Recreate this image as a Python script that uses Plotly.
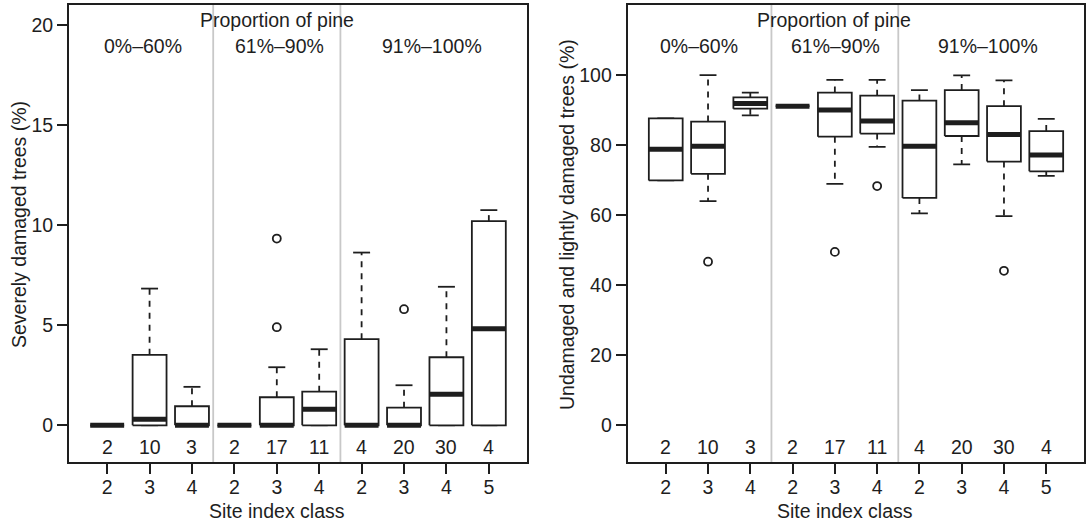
import plotly.graph_objects as go

# ---------------- data ----------------
site_labels = ["2", "3", "4", "2", "3", "4", "2", "3", "4", "5"]
group_labels = ["0%–60%", "61%–90%", "91%–100%"]
group_sizes = [3, 3, 4]
n_counts = ["2", "10", "3", "2", "17", "11", "4", "20", "30", "4"]

# Left panel: severely damaged trees (%)
sev_lower = [0, 0, 0, 0, 0, 0, 0, 0, 0, 0]
sev_q1 = [0, 0, 0, 0, 0, 0, 0, 0, 0, 0]
sev_median = [0, 0.3, 0, 0, 0, 0.8, 0, 0, 1.55, 4.82]
sev_q3 = [0, 3.52, 0.95, 0, 1.4, 1.68, 4.3, 0.88, 3.4, 10.2]
sev_upper = [0, 6.83, 1.92, 0, 2.9, 3.8, 8.63, 2.0, 6.92, 10.75]
sev_outliers = [[], [], [], [], [4.9, 9.33], [], [], [5.8], [], []]

# Right panel: undamaged and lightly damaged trees (%)
und_lower = [69.9, 64.0, 88.5, 91.1, 68.9, 79.5, 60.5, 74.5, 59.7, 71.2]
und_q1 = [69.9, 71.8, 90.4, 91.1, 82.4, 83.3, 64.9, 82.6, 75.3, 72.5]
und_median = [78.8, 79.7, 91.9, 91.1, 90.0, 86.9, 79.7, 86.4, 83.0, 77.2]
und_q3 = [87.6, 86.7, 93.6, 91.1, 95.0, 94.1, 92.7, 95.7, 91.1, 84.0]
und_upper = [87.6, 100.0, 95.0, 91.1, 98.6, 98.6, 95.7, 99.9, 98.5, 87.5]
und_outliers = [[], [46.7], [], [], [49.5], [68.3], [], [], [44.1], []]

# ---------------- style ----------------
INK = "#1e1e1e"
GREY = "#c8c8c8"
FONT = "Liberation Sans, Arial, Helvetica, sans-serif"
FS = 19.5
W, H = 1086, 524
MT, MB = 5, 62
BOXW = 0.4   # half width of box
CAPW = 0.2   # half width of staple

fig = go.Figure()


def add_panel(xa, ya, lower, q1, med, q3, upper, outl):
    pos = list(range(1, len(q1) + 1))
    bx, by, wx, wy, cx, cy, mx, my, ox, oy = [], [], [], [], [], [], [], [], [], []
    for p, lo, a, m, b, up, out in zip(pos, lower, q1, med, q3, upper, outl):
        bx += [p - BOXW, p + BOXW, p + BOXW, p - BOXW, p - BOXW, None]
        by += [a, a, b, b, a, None]
        wx += [p, p, None, p, p, None]
        wy += [b, up, None, a, lo, None]
        cx += [p - CAPW, p + CAPW, None, p - CAPW, p + CAPW, None]
        cy += [up, up, None, lo, lo, None]
        mx += [p - BOXW, p + BOXW, None]
        my += [m, m, None]
        for o in out:
            ox.append(p)
            oy.append(o)
    common = dict(xaxis=xa, yaxis=ya, mode="lines", hoverinfo="skip", showlegend=False)
    fig.add_trace(go.Scatter(x=wx, y=wy, line=dict(color=INK, width=1.8, dash="6px,6px"), **common))
    fig.add_trace(go.Scatter(x=cx, y=cy, line=dict(color=INK, width=1.8), **common))
    fig.add_trace(go.Scatter(x=bx, y=by, line=dict(color=INK, width=1.8), fill="toself",
                             fillcolor="white", **common))
    fig.add_trace(go.Scatter(x=mx, y=my, line=dict(color=INK, width=5), **common))
    fig.add_trace(go.Scatter(x=ox, y=oy, xaxis=xa, yaxis=ya, mode="markers", hoverinfo="skip",
                             showlegend=False,
                             marker=dict(symbol="circle-open", size=8, color=INK,
                                         line=dict(width=1.8, color=INK))))


add_panel("x", "y", sev_lower, sev_q1, sev_median, sev_q3, sev_upper, sev_outliers)
add_panel("x2", "y2", und_lower, und_q1, und_median, und_q3, und_upper, und_outliers)

# group separators
bounds = []
acc = 0
for g in group_sizes[:-1]:
    acc += g
    bounds.append(acc + 0.5)
for xr, yr in [("x", "y domain"), ("x2", "y2 domain")]:
    for b in bounds:
        fig.add_shape(type="line", xref=xr, yref=yr, x0=b, x1=b, y0=0, y1=1,
                      line=dict(color=GREY, width=1.8), layer="below")

# group label centers (measured)
group_x_left = [1.84, 5.07, 8.65]
group_x_right = [1.78, 5.02, 8.63]


def py(pix):
    # convert pixel row (from top of page) into paper fraction of plot area
    return (H - MB - pix) / (H - MT - MB)


ann = []
for xr, gx, title_x in [("x", group_x_left, 5.0), ("x2", group_x_right, 4.97)]:
    ann.append(dict(xref=xr, yref="paper", x=title_x, y=py(20), text="Proportion of pine",
                    showarrow=False, xanchor="center", yanchor="middle"))
    for lab, xx in zip(group_labels, gx):
        ann.append(dict(xref=xr, yref="paper", x=xx, y=py(46), text=lab,
                        showarrow=False, xanchor="center", yanchor="middle"))
    for i, n in enumerate(n_counts):
        ann.append(dict(xref=xr, yref="paper", x=i + 1, y=py(446.5), text=n,
                        showarrow=False, xanchor="center", yanchor="middle"))

ann.append(dict(xref="x", yref="paper", x=5.0, y=py(511), text="Site index class",
                showarrow=False, xanchor="center", yanchor="middle"))
ann.append(dict(xref="x2", yref="paper", x=5.24, y=py(511), text="Site index class",
                showarrow=False, xanchor="center", yanchor="middle"))
ann.append(dict(xref="paper", yref="paper", x=19 / W, y=py(225),
                text="Severely damaged trees (%)", textangle=-90,
                showarrow=False, xanchor="center", yanchor="middle"))
ann.append(dict(xref="paper", yref="paper", x=567 / W, y=py(225),
                text="Undamaged and lightly damaged trees (%)", textangle=-90,
                showarrow=False, xanchor="center", yanchor="middle"))

xcommon = dict(range=[0.1, 10.9], tickvals=list(range(1, 11)), ticktext=site_labels,
               ticks="outside", ticklen=10, tickwidth=1.8, tickcolor=INK,
               ticklabelstandoff=-3,
               showline=True, linewidth=2, linecolor=INK, mirror=True,
               showgrid=False, zeroline=False, fixedrange=True)
ycommon = dict(ticks="outside", ticklen=10, tickwidth=1.8, tickcolor=INK,
               showline=True, linewidth=2, linecolor=INK, mirror=True,
               showgrid=False, zeroline=False, fixedrange=True)

fig.update_layout(
    width=W, height=H,
    paper_bgcolor="white", plot_bgcolor="white",
    margin=dict(l=0, r=0, t=MT, b=MB),
    font=dict(family=FONT, size=FS, color=INK),
    showlegend=False,
    xaxis=dict(domain=[69 / W, 527 / W], anchor="y", **xcommon),
    yaxis=dict(domain=[0, 1], anchor="x", range=[-1.835, 21],
               tickvals=[0, 5, 10, 15, 20], **ycommon),
    xaxis2=dict(domain=[627.7 / W, 1084.3 / W], anchor="y2", **xcommon),
    yaxis2=dict(domain=[0, 1], anchor="x2", range=[-10.49, 120],
                tickvals=[0, 20, 40, 60, 80, 100], **ycommon),
    annotations=ann,
)

fig.write_html("out.html")
